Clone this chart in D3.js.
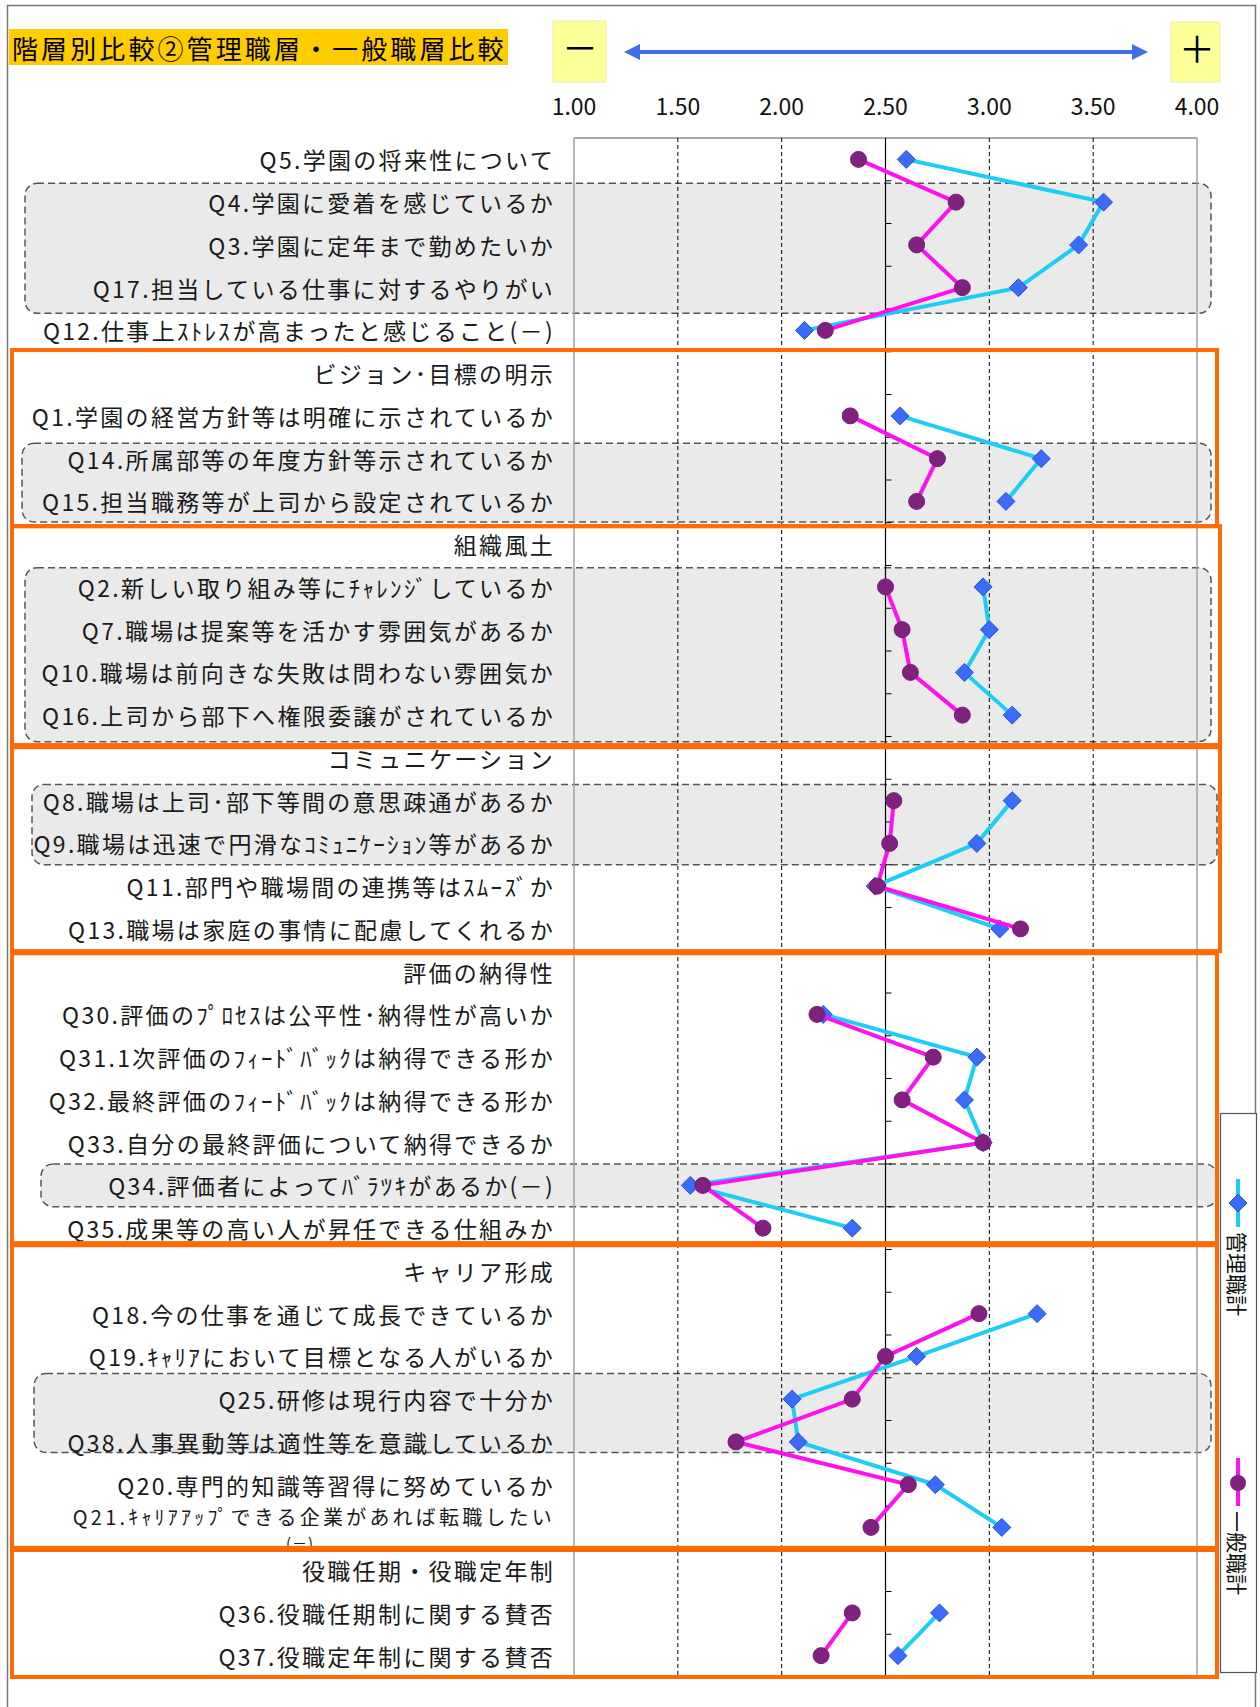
<!DOCTYPE html>
<html><head><meta charset="utf-8">
<script src="https://cdn.jsdelivr.net/npm/d3@7"></script>
<style>
body{margin:0;background:#fff;}
svg text{font-family:"Noto Sans CJK JP","Noto Sans",sans-serif;}
</style></head><body><svg id="c" width="1260" height="1707"></svg>
<script>
// ---------- DATA ----------
const categories = [
 "Q5.学園の将来性について",
 "Q4.学園に愛着を感じているか",
 "Q3.学園に定年まで勤めたいか",
 "Q17.担当している仕事に対するやりがい",
 "Q12.仕事上ｽﾄﾚｽが高まったと感じること(－)",
 "ビジョン･目標の明示",
 "Q1.学園の経営方針等は明確に示されているか",
 "Q14.所属部等の年度方針等示されているか",
 "Q15.担当職務等が上司から設定されているか",
 "組織風土",
 "Q2.新しい取り組み等にﾁｬﾚﾝｼﾞしているか",
 "Q7.職場は提案等を活かす雰囲気があるか",
 "Q10.職場は前向きな失敗は問わない雰囲気か",
 "Q16.上司から部下へ権限委譲がされているか",
 "コミュニケーション",
 "Q8.職場は上司･部下等間の意思疎通があるか",
 "Q9.職場は迅速で円滑なｺﾐｭﾆｹｰｼｮﾝ等があるか",
 "Q11.部門や職場間の連携等はｽﾑｰｽﾞか",
 "Q13.職場は家庭の事情に配慮してくれるか",
 "評価の納得性",
 "Q30.評価のﾌﾟﾛｾｽは公平性･納得性が高いか",
 "Q31.1次評価のﾌｨｰﾄﾞﾊﾞｯｸは納得できる形か",
 "Q32.最終評価のﾌｨｰﾄﾞﾊﾞｯｸは納得できる形か",
 "Q33.自分の最終評価について納得できるか",
 "Q34.評価者によってﾊﾞﾗﾂｷがあるか(－)",
 "Q35.成果等の高い人が昇任できる仕組みか",
 "キャリア形成",
 "Q18.今の仕事を通じて成長できているか",
 "Q19.ｷｬﾘｱにおいて目標となる人がいるか",
 "Q25.研修は現行内容で十分か",
 "Q38.人事異動等は適性等を意識しているか",
 "Q20.専門的知識等習得に努めているか",
 "Q21.ｷｬﾘｱｱｯﾌﾟできる企業があれば転職したい\n(－)",
 "役職任期・役職定年制",
 "Q36.役職任期制に関する賛否",
 "Q37.役職定年制に関する賛否"
];
const seriesNames = ["管理職計", "一般職計"];
const kanriValues = [2.60,3.55,3.43,3.14,2.11, null, 2.57,3.25,3.08, null,
  2.97,3.00,2.88,3.11, null, 3.11,2.94,2.45,3.05, null,
  2.20,2.94,2.88,2.97,1.56,2.34, null, 3.23,2.65,2.05,2.08,2.74,3.06, null, 2.76,2.56];
const ippanValues = [2.37,2.84,2.65,2.87,2.21, null, 2.33,2.75,2.65, null,
  2.50,2.58,2.62,2.87, null, 2.54,2.52,2.46,3.15, null,
  2.17,2.73,2.58,2.97,1.62,1.91, null, 2.95,2.50,2.34,1.78,2.61,2.43, null, 2.34,2.19];
const tickValues = [1.0,1.5,2.0,2.5,3.0,3.5,4.0];
const tickLabels = ["1.00","1.50","2.00","2.50","3.00","3.50","4.00"];
const titleText = "階層別比較②管理職層・一般職層比較";
// section frames (row-unit spans) and highlighted groups (row-unit spans, left inset)
const sectionSpans = [[4.96,9.08],[9.08,14.2],[14.25,19.02],[19.07,25.85],[25.9,32.98],[33.03,36]];
const highlightSpans = [[1.06,4.1,25],[7.14,8.98,22],[10.05,14.12,25],[15.12,17.0,32],[24.0,25.0,41],[28.9,30.75,34]];

// ---------- LAYOUT ----------
const svg = d3.select("#c");
const L = 574, R = 1197, T = 138, B = 1677;
const x = d3.scaleLinear().domain([1,4]).range([L,R]);
const y = d3.scaleBand().domain(d3.range(categories.length)).range([T,B]);
const rowY = d3.scaleLinear().domain([0,categories.length]).range([T,B]);

// outer border
svg.append("rect").attr("x",7.5).attr("y",5.5).attr("width",1248).attr("height",1720)
  .attr("fill","#fff").attr("stroke","#777").attr("stroke-width",1.5);

// highlighted gray groups
svg.append("g").selectAll("rect").data(highlightSpans).join("rect")
  .attr("x",d=>d[2]).attr("y",d=>rowY(d[0]))
  .attr("width",d=>1211-d[2]+(d[0]>15&&d[0]<25?6:0)).attr("height",d=>rowY(d[1])-rowY(d[0]))
  .attr("rx",12).attr("ry",12)
  .attr("fill","#e9eae9").attr("stroke","#555").attr("stroke-width",1.5).attr("stroke-dasharray","7,4");

// plot borders
svg.append("line").attr("x1",L).attr("x2",R).attr("y1",T).attr("y2",T).attr("stroke","#555").attr("stroke-width",1.2);
[L,R].forEach(v=>svg.append("line").attr("x1",v).attr("x2",v).attr("y1",T).attr("y2",B).attr("stroke","#a0a0a0").attr("stroke-width",1.5));

// gridlines
svg.append("g").selectAll("line").data(tickValues.filter(v=>v!==1&&v!==4&&v!==2.5)).join("line")
  .attr("x1",d=>x(d)).attr("x2",d=>x(d)).attr("y1",T).attr("y2",B)
  .attr("stroke","#000").attr("stroke-width",1).attr("stroke-dasharray","4,3");

// category axis at 2.5
svg.append("line").attr("x1",x(2.5)).attr("x2",x(2.5)).attr("y1",T).attr("y2",B).attr("stroke","#000").attr("stroke-width",1.2);
svg.append("g").selectAll("line").data(d3.range(1,categories.length)).join("line")
  .attr("x1",x(2.5)).attr("x2",x(2.5)+6).attr("y1",d=>rowY(d)).attr("y2",d=>rowY(d))
  .attr("stroke","#000").attr("stroke-width",1);

// category labels
const lab = svg.append("g").attr("font-size",23).attr("fill","#1a1a1a").attr("text-anchor","end")
  .attr("letter-spacing",2.3);
categories.forEach((c,i)=>{
  const parts = c.split("\n");
  const cy = y(i)+y.bandwidth()/2;
  if(parts.length===1){
    lab.append("text").attr("x",555).attr("y",cy).attr("dominant-baseline","central").text(c);
  } else {
    lab.append("text").attr("x",555).attr("y",cy-11).attr("font-size",20).attr("letter-spacing",3.2)
      .attr("dominant-baseline","central").text(parts[0]);
    lab.append("text").attr("x",300).attr("y",cy+15).attr("font-size",15).attr("letter-spacing",1)
      .attr("text-anchor","middle").attr("dominant-baseline","central").text(parts[1]);
  }
});

// series
const line = d3.line().defined(d=>d.v!==null).x(d=>x(d.v)).y(d=>y(d.i)+y.bandwidth()/2);
const s1 = kanriValues.map((v,i)=>({v,i}));
const s2 = ippanValues.map((v,i)=>({v,i}));
svg.append("path").datum(s1).attr("d",line).attr("fill","none").attr("stroke","#1ccdf5").attr("stroke-width",4);
svg.append("g").selectAll("path").data(s1.filter(d=>d.v!==null)).join("path")
  .attr("d","M0,-9L9,0L0,9L-9,0Z")
  .attr("transform",d=>`translate(${x(d.v)},${y(d.i)+y.bandwidth()/2})`)
  .attr("fill","#3b6cf7").attr("stroke","#2a50e0").attr("stroke-width",1);
svg.append("path").datum(s2).attr("d",line).attr("fill","none").attr("stroke","#ff10f0").attr("stroke-width",4);
svg.append("g").selectAll("circle").data(s2.filter(d=>d.v!==null)).join("circle")
  .attr("cx",d=>x(d.v)).attr("cy",d=>y(d.i)+y.bandwidth()/2).attr("r",8)
  .attr("fill","#80207f").attr("stroke","#7a1a7a").attr("stroke-width",1);

// section frames
svg.append("g").selectAll("rect").data(sectionSpans).join("rect")
  .attr("x",12).attr("y",d=>rowY(d[0])).attr("width",(d,i)=>(i===1||i===2)?1208:1205)
  .attr("height",d=>rowY(d[1])-rowY(d[0]))
  .attr("fill","none").attr("stroke","#ff6a06").attr("stroke-width",4);

// legend
const lg = svg.append("g");
lg.append("rect").attr("x",1220.5).attr("y",1113.5).attr("width",36).attr("height",559)
  .attr("fill","#fff").attr("stroke","#555").attr("stroke-width",1.2);
const lcx = 1238;
lg.append("line").attr("x1",lcx).attr("x2",lcx).attr("y1",1179).attr("y2",1227).attr("stroke","#1ccdf5").attr("stroke-width",4);
lg.append("path").attr("d","M0,-9L9,0L0,9L-9,0Z").attr("transform",`translate(${lcx},1203)`).attr("fill","#3b6cf7").attr("stroke","#2a50e0");
lg.append("text").attr("transform",`translate(${lcx},1232) rotate(90)`).attr("font-size",21).attr("dominant-baseline","central").attr("fill","#111").text(seriesNames[0]);
lg.append("line").attr("x1",lcx).attr("x2",lcx).attr("y1",1458).attr("y2",1506).attr("stroke","#ff10f0").attr("stroke-width",4);
lg.append("circle").attr("cx",lcx).attr("cy",1483).attr("r",8).attr("fill","#80207f");
lg.append("text").attr("transform",`translate(${lcx},1511) rotate(90)`).attr("font-size",21).attr("dominant-baseline","central").attr("fill","#111").text(seriesNames[1]);

// title
svg.append("rect").attr("x",9).attr("y",29).attr("width",499).attr("height",36).attr("fill","#ffcc00");
svg.append("text").attr("x",12).attr("y",47).attr("font-size",26).attr("letter-spacing",3.1)
  .attr("dominant-baseline","central").attr("fill","#000").text(titleText);

// minus / plus boxes
svg.append("rect").attr("x",553).attr("y",21).attr("width",53).attr("height",61).attr("fill","#ffff99").attr("stroke","#eeeeaa");
svg.append("rect").attr("x",1171).attr("y",22).attr("width",49).attr("height",60).attr("fill","#ffff99").attr("stroke","#eeeeaa");
svg.append("text").attr("x",580).attr("y",46).attr("font-size",36).attr("text-anchor","middle").attr("dominant-baseline","central").text("－");
svg.append("text").attr("x",1197).attr("y",47).attr("font-size",36).attr("text-anchor","middle").attr("dominant-baseline","central").text("＋");

// arrow
const ac = "#3f6fe6";
svg.append("line").attr("x1",636).attr("x2",1136).attr("y1",52).attr("y2",52).attr("stroke",ac).attr("stroke-width",4);
svg.append("path").attr("d","M624,52L640,44L640,60Z").attr("fill",ac);
svg.append("path").attr("d","M1148,52L1132,44L1132,60Z").attr("fill",ac);

// value tick labels
svg.append("g").selectAll("text").data(tickValues).join("text")
  .attr("x",d=>x(d)).attr("y",105).attr("text-anchor","middle").attr("dominant-baseline","central")
  .attr("font-size",23).attr("fill","#111").text((d,i)=>tickLabels[i]);
</script></body></html>
